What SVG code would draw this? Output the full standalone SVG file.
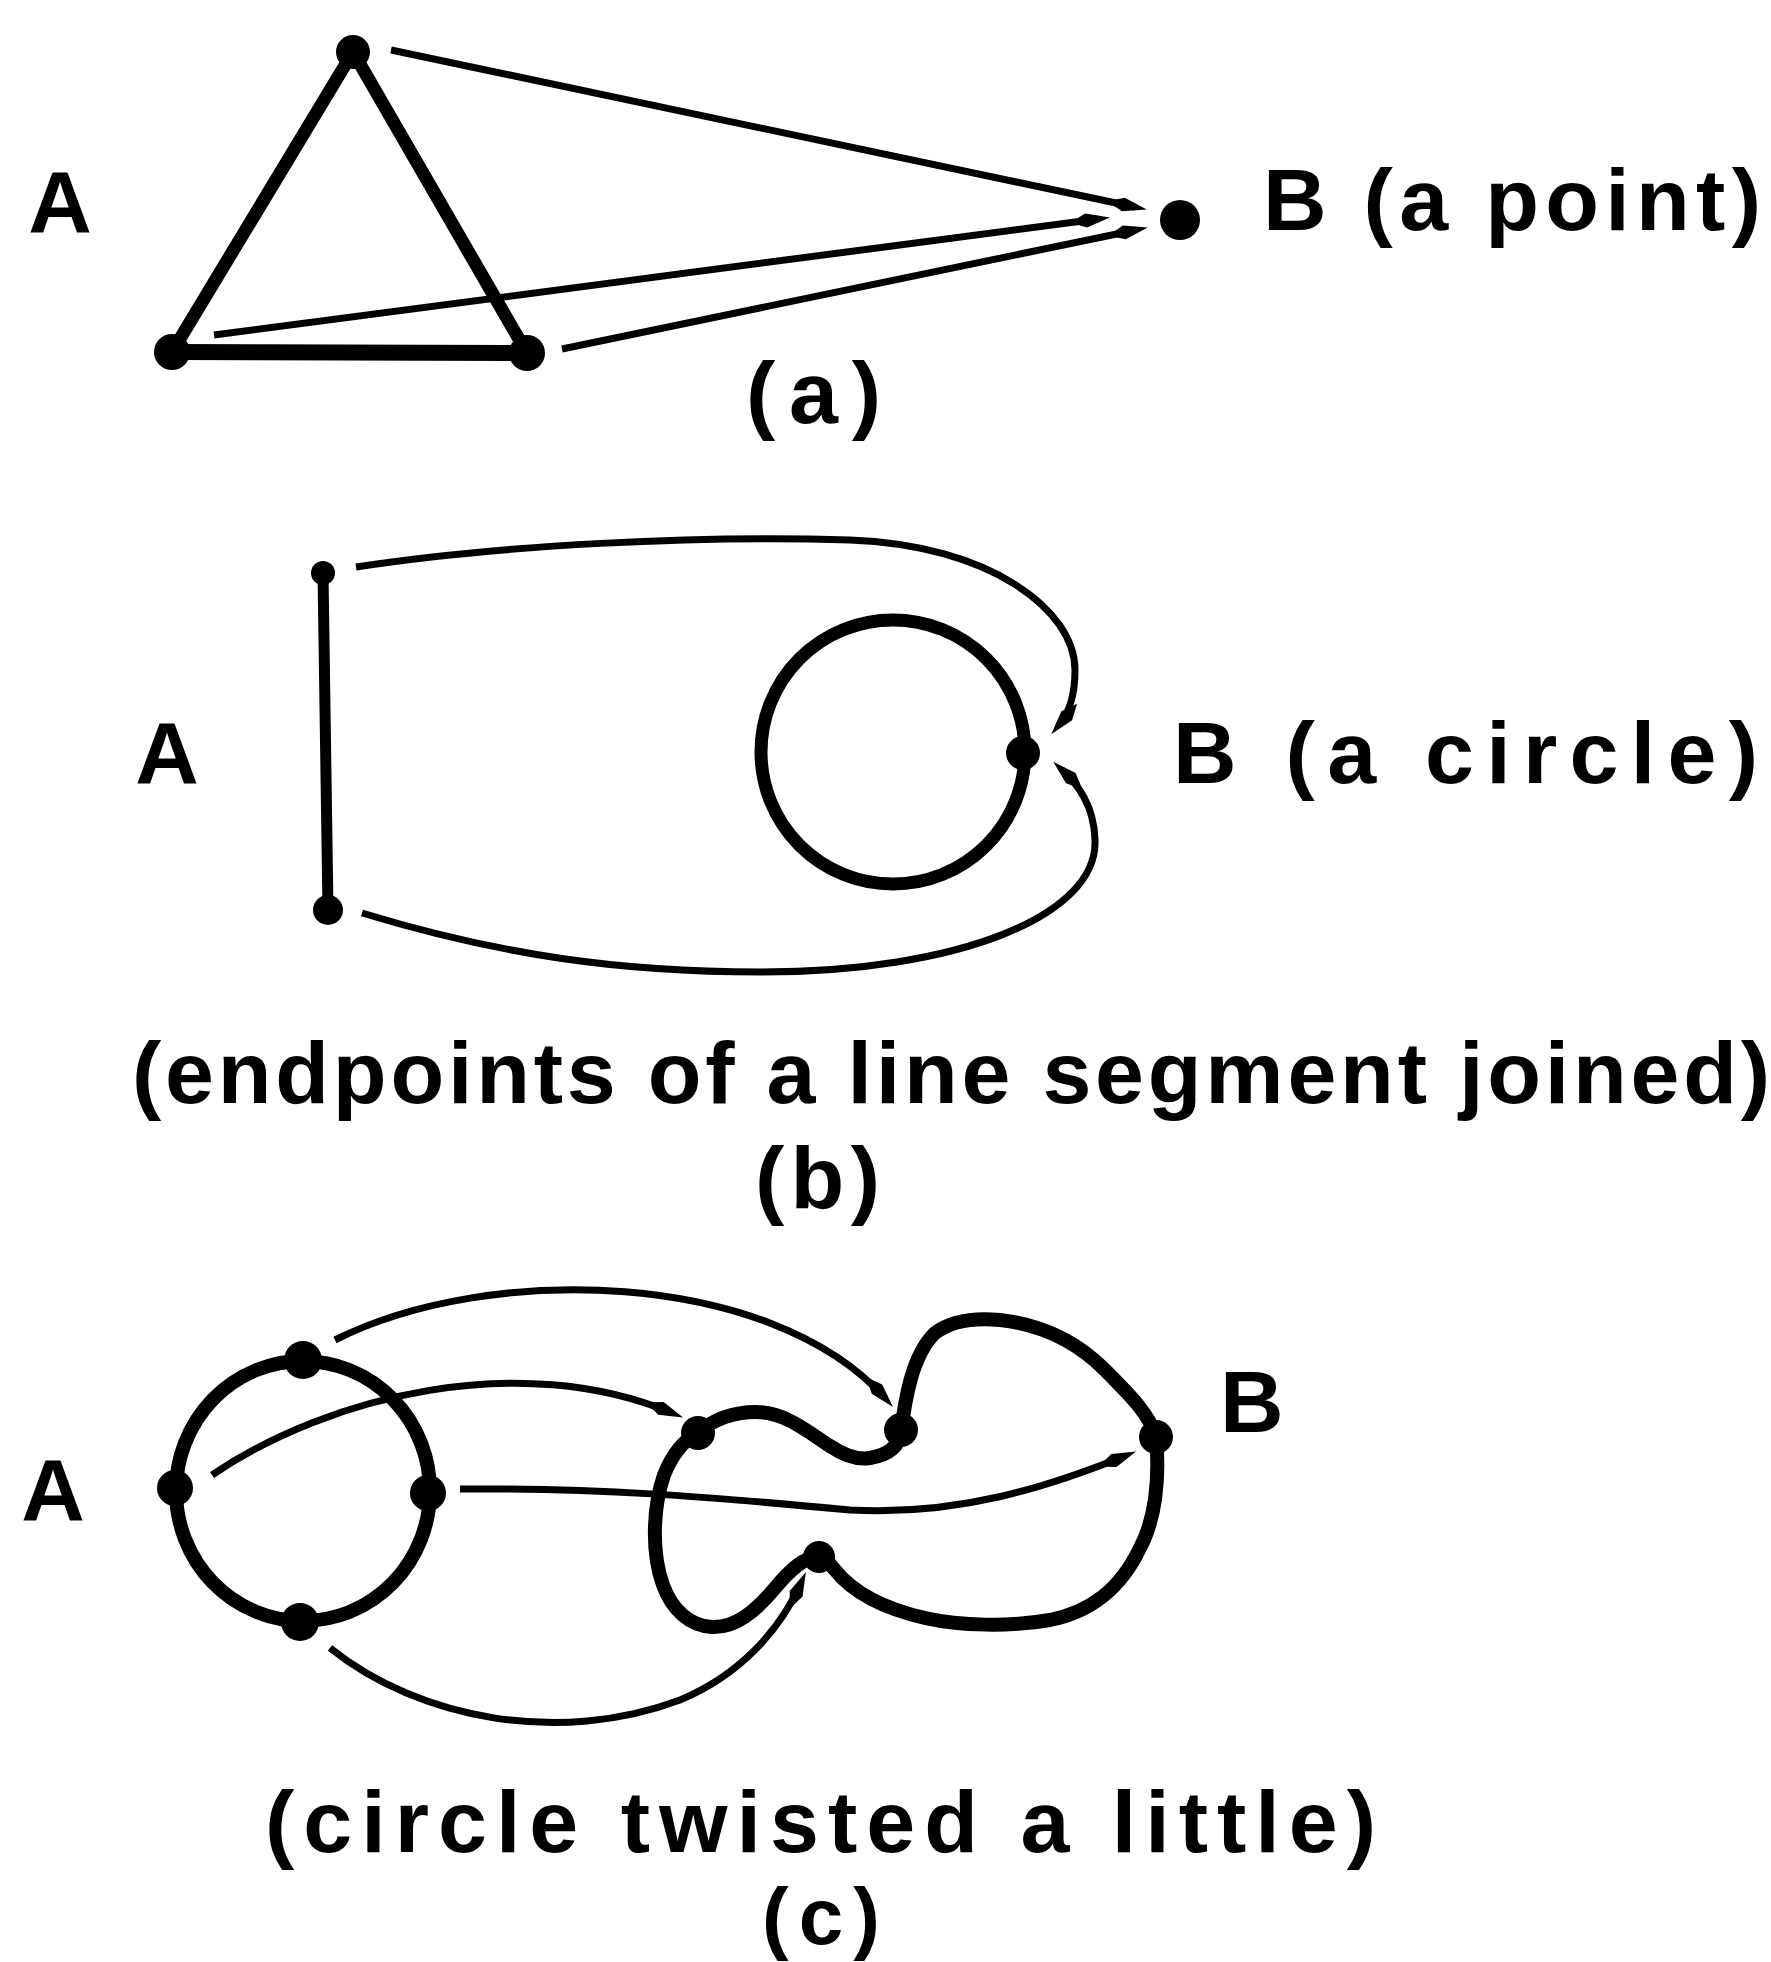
<svg xmlns="http://www.w3.org/2000/svg" width="1771" height="1962" viewBox="0 0 1771 1962">
<style>
.thick{fill:none;stroke:#000;stroke-width:13;stroke-linejoin:round;stroke-linecap:round}
.thin{fill:none;stroke:#000;stroke-width:7;stroke-linecap:butt}
.dot{fill:#000}
.lbl{font-family:"Liberation Sans",Arial,sans-serif;font-weight:bold;font-size:88px;fill:#000}
</style>
<defs>
<marker id="arr" viewBox="0 0 40 16" refX="28" refY="8" markerWidth="40" markerHeight="16" markerUnits="userSpaceOnUse" orient="auto">
<path d="M0,8 L16,1 L40,8 L16,15 Z" fill="#000"/>
</marker>
</defs>
<rect width="1771" height="1962" fill="#fff"/>

<!-- (a) -->
<g id="a-triangle">
<path class="thick" d="M353,52 L172,352 M353,52 L527,353"/>
<path class="thick" style="stroke-width:16" d="M172,352 L527,353"/>
<circle class="dot" cx="353" cy="52" r="17"/>
<circle class="dot" cx="172" cy="352" r="18"/>
<circle class="dot" cx="527" cy="353" r="18"/>
</g>
<g id="a-point">
<circle class="dot" cx="1180" cy="220" r="20"/>
</g>

<!-- (b) -->
<g id="b-segment">
<path class="thick" style="stroke-width:11" d="M323,573 L328,910"/>
<circle class="dot" cx="323" cy="573" r="12"/>
<circle class="dot" cx="328" cy="910" r="15"/>
</g>
<g id="b-circle">
<circle class="thick" cx="893" cy="752" r="132"/>
<circle class="dot" cx="1023" cy="753" r="17"/>
</g>

<!-- (c) -->
<g id="c-circle">
<ellipse class="thick" style="stroke-width:14" cx="303" cy="1491" rx="127" ry="130"/>
<circle class="dot" cx="303" cy="1360" r="19"/>
<circle class="dot" cx="175" cy="1488" r="18"/>
<circle class="dot" cx="428" cy="1493" r="18"/>
<circle class="dot" cx="300" cy="1622" r="19"/>
</g>
<g id="c-shapeB">
<path class="thick" style="stroke-width:14" d="M698,1433 C715,1418 735,1412 756,1412 C785,1412 808,1432 830,1446 C845,1456 858,1460 870,1458 C888,1455 899,1447 901,1432 C905,1400 912,1355 935,1333 C955,1318 980,1318 1000,1320 C1045,1325 1080,1345 1105,1370 C1130,1395 1150,1415 1156,1437 C1160,1480 1155,1520 1140,1548 C1120,1590 1090,1612 1050,1620 C1010,1627 960,1626 925,1618 C890,1610 855,1595 835,1570 C828,1562 825,1557 819,1557 C805,1556 790,1570 775,1588 C755,1612 735,1628 712,1627 C690,1626 672,1610 663,1585 C652,1555 652,1510 664,1475 C672,1455 684,1440 698,1433 Z"/>
<circle class="dot" cx="698" cy="1433" r="17"/>
<circle class="dot" cx="901" cy="1430" r="17"/>
<circle class="dot" cx="1156" cy="1437" r="17"/>
<circle class="dot" cx="819" cy="1557" r="16"/>
</g>

<g id="connectors">
<path class="thin" marker-end="url(#arr)" d="M391,50 L1135,207"/>
<path class="thin" marker-end="url(#arr)" d="M214,335 L1098,219"/>
<path class="thin" marker-end="url(#arr)" d="M562,349 L1136,230"/>
<path class="thin" marker-end="url(#arr)" d="M356,567 C500,545 700,535 850,540 C990,545 1075,610 1075,670 C1075,695 1070,712 1059,725"/>
<path class="thin" marker-end="url(#arr)" d="M362,913 C500,955 620,972 760,972 C960,972 1098,915 1095,840 C1094,805 1078,785 1062,770"/>
<path class="thin" marker-end="url(#arr)" d="M335,1340 C490,1262 770,1270 885,1398"/>
<path class="thin" marker-end="url(#arr)" d="M212,1475 C330,1395 520,1350 672,1413"/>
<path class="thin" marker-end="url(#arr)" d="M460,1489 C600,1488 700,1496 850,1510 C960,1516 1050,1486 1125,1456"/>
<path class="thin" marker-end="url(#arr)" d="M330,1648 C420,1720 560,1745 680,1700 C740,1675 780,1630 801,1583"/>
</g>

<g id="labels">
<text class="lbl" x="60" y="232" text-anchor="middle">A</text>
<text class="lbl" x="1263" y="230" textLength="498" lengthAdjust="spacing">B (a point)</text>
<text class="lbl" x="746" y="423" textLength="135" lengthAdjust="spacing">(a)</text>
<text class="lbl" x="167" y="783" text-anchor="middle">A</text>
<text class="lbl" x="1173" y="783" textLength="585" lengthAdjust="spacing">B (a circle)</text>
<text class="lbl" x="132" y="1103" textLength="1638" lengthAdjust="spacing">(endpoints of a line segment joined)</text>
<text class="lbl" x="755" y="1208" textLength="125" lengthAdjust="spacing">(b)</text>
<text class="lbl" x="53" y="1520" text-anchor="middle">A</text>
<text class="lbl" x="1220" y="1432">B</text>
<text class="lbl" x="265" y="1852" textLength="1111" lengthAdjust="spacing">(circle twisted a little)</text>
<text class="lbl" x="762" y="1944" style="font-size:80px" textLength="118" lengthAdjust="spacing">(c)</text>
</g>
</svg>
